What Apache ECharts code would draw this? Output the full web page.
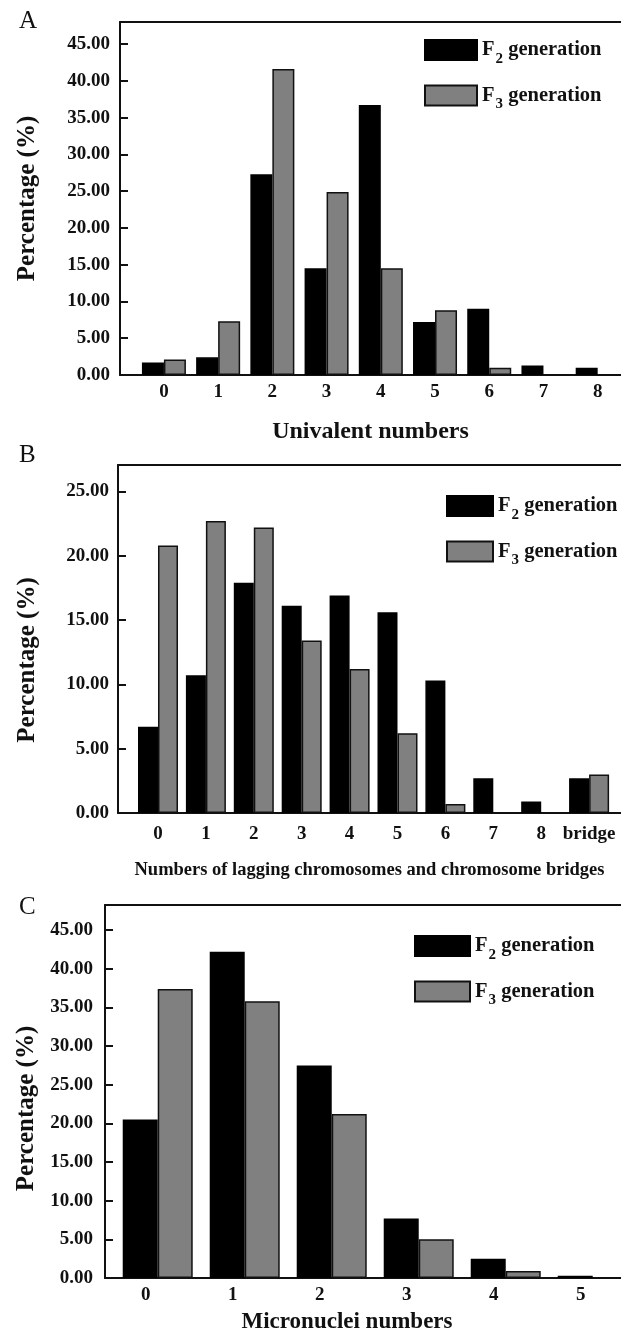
<!DOCTYPE html>
<html>
<head>
<meta charset="utf-8">
<script src="https://cdn.jsdelivr.net/npm/echarts@6/dist/echarts.min.js"></script>
<style>
  html, body { margin: 0; padding: 0; background: #fff; }
  #main { width: 621px; height: 1335px; }
</style>
</head>
<body>
<div id="main"></div>
<script>
// A: univalents per cell
const catsA = ["0", "1", "2", "3", "4", "5", "6", "7", "8"];
const f2A = [1.7, 2.4, 27.3, 14.5, 36.7, 7.2, 9.0, 1.3, 1.0];
const f3A = [2.1, 7.3, 41.6, 24.9, 14.5, 8.8, 1.0, 0, 0];
const yTicksA = [0, 5, 10, 15, 20, 25, 30, 35, 40, 45];

// B: lagging chromosomes and bridges
const catsB = ["0", "1", "2", "3", "4", "5", "6", "7", "8", "bridge"];
const f2B = [6.7, 10.7, 17.9, 16.1, 16.9, 15.6, 10.3, 2.7, 0.9, 2.7];
const f3B = [20.8, 22.7, 22.2, 13.4, 11.2, 6.2, 0.7, 0, 0, 3.0];
const yTicksB = [0, 5, 10, 15, 20, 25];

// C: micronuclei
const catsC = ["0", "1", "2", "3", "4", "5"];
const f2C = [20.5, 42.2, 27.5, 7.7, 2.5, 0.3];
const f3C = [37.4, 35.8, 21.2, 5.0, 0.9, 0];
const yTicksC = [0, 5, 10, 15, 20, 25, 30, 35, 40, 45];

const FONT = "Liberation Serif";
const INK = "#111";

const pairs = (vals) => vals.map((v, i) => [i, v]);

// one panel = grid + bottom axis + top frame axis + y axis + 2 bar series
function panel(idx, p) {
  const grid = { left: p.left, top: p.top, height: p.height, right: 0 };
  const xBottom = {
    type: "value",
    gridIndex: idx,
    min: p.xMin,
    max: p.xMax,
    name: p.xName,
    nameLocation: "middle",
    nameGap: p.xNameGap,
    nameTextStyle: {
      fontFamily: FONT, fontWeight: "bold", fontSize: p.xNameSize, color: INK,
      padding: p.xNamePad || 0,
    },
    axisLine: { show: true, onZero: false, lineStyle: { color: INK, width: 2 } },
    axisTick: { show: false },
    splitLine: { show: false },
    axisLabel: {
      customValues: p.cats.map((c, i) => i),
      formatter: (v) => p.cats[Math.round(v)],
      margin: p.xLabelMargin,
      fontFamily: FONT, fontWeight: "bold", fontSize: 19, color: INK,
      padding: p.xLabelPad || 0,
    },
  };
  const xTop = {
    type: "value",
    gridIndex: idx,
    position: "top",
    min: p.xMin,
    max: p.xMax,
    axisLine: { show: true, onZero: false, lineStyle: { color: INK, width: 2 } },
    axisTick: { show: false },
    axisLabel: { show: false },
    splitLine: { show: false },
  };
  const y = {
    type: "value",
    gridIndex: idx,
    min: 0,
    max: p.yMax,
    name: "Percentage (%)",
    nameLocation: "middle",
    nameGap: p.yNameGap,
    nameTextStyle: {
      fontFamily: FONT, fontWeight: "bold", fontSize: 25, color: INK,
      padding: p.yNamePad || 0,
    },
    axisLine: { show: true, onZero: false, lineStyle: { color: INK, width: 2 } },
    axisTick: {
      show: true, inside: true, length: 8,
      customValues: p.yTicks,
      lineStyle: { color: INK, width: 2 },
    },
    splitLine: { show: false },
    axisLabel: {
      customValues: p.yTicks,
      formatter: (v) => v.toFixed(2),
      margin: p.yLabelMargin,
      fontFamily: FONT, fontWeight: "bold", fontSize: 19, color: INK,
    },
  };
  const series = [
    {
      name: "F2 generation",
      type: "bar",
      xAxisIndex: idx * 2,
      yAxisIndex: idx,
      barWidth: p.barW,
      barGap: "0%",
      itemStyle: { color: "#000", borderColor: "#000", borderWidth: 1.5 },
      data: pairs(p.f2),
    },
    {
      name: "F3 generation",
      type: "bar",
      xAxisIndex: idx * 2,
      yAxisIndex: idx,
      barWidth: p.barW,
      barGap: "0%",
      itemStyle: { color: "#808080", borderColor: "#111", borderWidth: 1.5 },
      data: pairs(p.f3),
    },
  ];
  const legend = {
    orient: "vertical",
    left: p.legLeft,
    top: p.legTop,
    padding: 0,
    itemWidth: p.legW,
    itemHeight: 20,
    itemGap: 18,
    icon: "rect",
    selectedMode: false,
    data: ["F2 generation", "F3 generation"],
    formatter: (n) => "{f|F}{s|" + n.charAt(1) + "}{f| generation}",
    textStyle: {
      rich: {
        f: { fontFamily: FONT, fontWeight: "bold", fontSize: 20.5, color: INK },
        s: { fontFamily: FONT, fontWeight: "bold", fontSize: 15, color: INK, padding: [18, 0, 0, 1] },
      },
    },
  };
  const title = {
    text: p.letter,
    left: 14,
    top: p.letterTop,
    textStyle: { fontFamily: FONT, fontWeight: "normal", fontSize: 25, color: INK },
  };
  return { grid, xAxes: [xBottom, xTop], y, series, legend, title };
}

const parts = [
  panel(0, {
    cats: catsA, f2: f2A, f3: f3A, yTicks: yTicksA, letter: "A", letterTop: 4,
    left: 120, top: 22, height: 353, xMin: -0.81, xMax: 8.43, yMax: 48, barW: 22,
    xName: "Univalent numbers", xNameSize: 24, xNameGap: 45, xLabelMargin: 8,
    yNameGap: 80, yLabelMargin: 10,
    legLeft: 424, legTop: 39, legW: 52,
  }),
  panel(1, {
    cats: catsB, f2: f2B, f3: f3B, yTicks: yTicksB, letter: "B", letterTop: 438,
    left: 118, top: 465, height: 348, xMin: -0.835, xMax: 9.666, yMax: 27.05, barW: 20,
    xName: "Numbers of lagging chromosomes and chromosome bridges", xNameSize: 18.5, xNameGap: 48,
    xLabelMargin: 12, yNameGap: 78, yNamePad: [0, 42, 0, 0], yLabelMargin: 9,
    legLeft: 446, legTop: 495, legW: 46,
  }),
  panel(2, {
    cats: catsC, f2: f2C, f3: f3C, yTicks: yTicksC, letter: "C", letterTop: 890,
    left: 105, top: 905, height: 373, xMin: -0.606, xMax: 5.325, yMax: 48.25, barW: 35,
    xName: "Micronuclei numbers", xNameSize: 23, xNameGap: 33, xNamePad: [0, 32, 0, 0],
    xLabelMargin: 8, xLabelPad: [0, 24, 0, 0], yNameGap: 66, yNamePad: [0, 34, 0, 0], yLabelMargin: 12,
    legLeft: 414, legTop: 935, legW: 55,
  }),
];

const chart = echarts.init(document.getElementById("main"));
chart.setOption({
  animation: false,
  backgroundColor: "#fff",
  title: parts.map((p) => p.title),
  legend: parts.map((p) => p.legend),
  grid: parts.map((p) => p.grid),
  xAxis: parts.flatMap((p) => p.xAxes),
  yAxis: parts.map((p) => p.y),
  series: parts.flatMap((p) => p.series),
});
</script>
</body>
</html>
